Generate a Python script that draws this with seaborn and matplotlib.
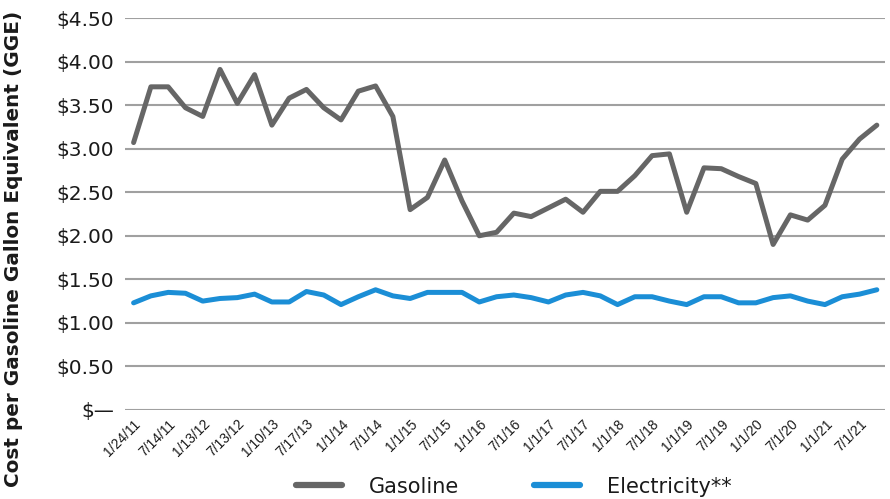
import matplotlib

matplotlib.use("Agg")
import matplotlib.pyplot as plt
import numpy as np
import pandas as pd
import seaborn as sns

# tick labels shown on every other observation
tick_labels = [
    "1/24/11", "7/14/11", "1/13/12", "7/13/12", "1/10/13", "7/17/13",
    "1/1/14", "7/1/14", "1/1/15", "7/1/15", "1/1/16", "7/1/16",
    "1/1/17", "7/1/17", "1/1/18", "7/1/18", "1/1/19", "7/1/19",
    "1/1/20", "7/1/20", "1/1/21", "7/1/21",
]

gasoline = [
    3.07, 3.71, 3.71, 3.47, 3.37, 3.91, 3.52, 3.85, 3.27, 3.58, 3.68,
    3.47, 3.33, 3.66, 3.72, 3.37, 2.30, 2.44, 2.87, 2.40, 2.00, 2.04,
    2.26, 2.22, 2.32, 2.42, 2.27, 2.51, 2.51, 2.69, 2.92, 2.94, 2.27,
    2.78, 2.77, 2.68, 2.60, 1.90, 2.24, 2.18, 2.35, 2.88, 3.11, 3.27,
]

electricity = [
    1.23, 1.31, 1.35, 1.34, 1.25, 1.28, 1.29, 1.33, 1.24, 1.24, 1.36,
    1.32, 1.21, 1.30, 1.38, 1.31, 1.28, 1.35, 1.35, 1.35, 1.24, 1.30,
    1.32, 1.29, 1.24, 1.32, 1.35, 1.31, 1.21, 1.30, 1.30, 1.25, 1.21,
    1.30, 1.30, 1.23, 1.23, 1.29, 1.31, 1.25, 1.21, 1.30, 1.33, 1.38,
]

y_ticks = [0, 0.5, 1.0, 1.5, 2.0, 2.5, 3.0, 3.5, 4.0, 4.5]
y_tick_labels = ["$—", "$0.50", "$1.00", "$1.50", "$2.00", "$2.50",
                 "$3.00", "$3.50", "$4.00", "$4.50"]

idx = np.arange(len(gasoline))
df = pd.concat(
    [
        pd.DataFrame({"idx": idx, "cost": gasoline, "fuel": "Gasoline"}),
        pd.DataFrame({"idx": idx, "cost": electricity, "fuel": "Electricity**"}),
    ],
    ignore_index=True,
)

sns.set_theme(style="white")
plt.rcParams["font.family"] = ["DejaVu Sans"]

fig = plt.figure(figsize=(8.9, 4.99), dpi=100)
ax = fig.add_axes([0.1404, 0.1784, 0.8545, 0.7855])

palette = {"Gasoline": "#666666", "Electricity**": "#1b8ed6"}
sns.lineplot(
    data=df, x="idx", y="cost", hue="fuel", palette=palette,
    linewidth=3.6, ax=ax, legend=False,
)

ax.set_xlim(-0.5, len(gasoline) - 0.5)
ax.set_ylim(0, 4.5)
ax.set_yticks(y_ticks)
ax.set_yticklabels(y_tick_labels, fontsize=14.5, color="#1a1a1a")
ax.set_xticks(idx[::2])
ax.set_xticklabels(tick_labels, rotation=45, ha="right", rotation_mode="anchor",
                   fontsize=10, family="Liberation Sans", color="#1a1a1a")
ax.tick_params(axis="both", length=0)
ax.tick_params(axis="y", pad=8)
ax.tick_params(axis="x", pad=5)

ax.grid(axis="y", color="#a0a0a0", linewidth=1.5)
ax.set_axisbelow(True)
for side in ["top", "right", "left", "bottom"]:
    ax.spines[side].set_visible(False)

ax.set_xlabel("")
ax.set_ylabel("Cost per Gasoline Gallon Equivalent (GGE)", fontsize=14.4,
              fontweight="bold", color="#1a1a1a")
ax.yaxis.set_label_coords(-0.134, 0.41)

handles = [
    plt.Line2D([], [], color=palette["Gasoline"], linewidth=4.5, solid_capstyle="round"),
    plt.Line2D([], [], color=palette["Electricity**"], linewidth=4.5, solid_capstyle="round"),
]
fig.legend(handles, ["Gasoline", "Electricity**"], loc="center",
           bbox_to_anchor=(0.577, 0.025), ncol=2, frameon=False, fontsize=15,
           handlelength=2.2, columnspacing=3.6, handletextpad=1.3,
           labelcolor="#1a1a1a")

fig.savefig("out.png", dpi=100)
plt.close(fig)
